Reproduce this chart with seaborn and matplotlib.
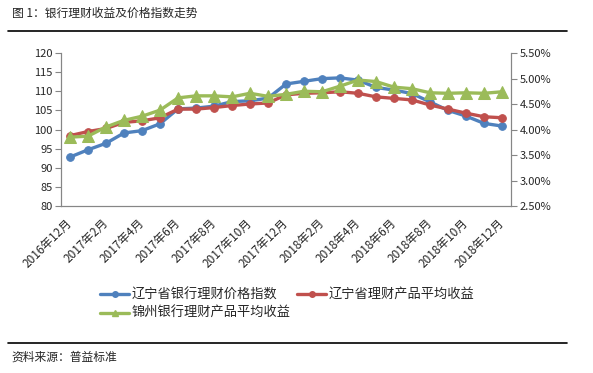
import numpy as np
import pandas as pd
import matplotlib
matplotlib.use("Agg")
import matplotlib.pyplot as plt
from matplotlib.lines import Line2D
import seaborn as sns

# data
months = ["2016年12月", "2017年1月", "2017年2月", "2017年3月", "2017年4月",
          "2017年5月", "2017年6月", "2017年7月", "2017年8月", "2017年9月",
          "2017年10月", "2017年11月", "2017年12月", "2018年1月", "2018年2月",
          "2018年3月", "2018年4月", "2018年5月", "2018年6月", "2018年7月",
          "2018年8月", "2018年9月", "2018年10月", "2018年11月", "2018年12月"]
price_index = [92.8, 94.7, 96.4, 99.1, 99.7, 101.5, 105.4, 105.6, 106.1, 107.3,
               107.5, 108.2, 111.9, 112.6, 113.3, 113.5, 112.9, 111.0, 110.3, 109.4,
               107.2, 105.0, 103.5, 101.6, 100.9]
liaoning_yield = [3.88, 3.96, 4.02, 4.14, 4.17, 4.23, 4.40, 4.40, 4.43, 4.47,
                  4.50, 4.52, 4.68, 4.71, 4.72, 4.74, 4.71, 4.64, 4.61, 4.58,
                  4.48, 4.40, 4.32, 4.25, 4.23]
jinzhou_yield = [3.85, 3.87, 4.05, 4.18, 4.26, 4.38, 4.62, 4.66, 4.66, 4.64,
                 4.71, 4.65, 4.69, 4.75, 4.74, 4.85, 4.97, 4.94, 4.83, 4.80,
                 4.72, 4.71, 4.72, 4.71, 4.74]
series_names = ["辽宁省银行理财价格指数", "辽宁省理财产品平均收益", "锦州银行理财产品平均收益"]
colors = ["#4F81BD", "#C0504D", "#9BBB59"]

df = pd.DataFrame({"idx": np.arange(len(months)), "month": months,
                   "price": price_index, "ln": liaoning_yield, "jz": jinzhou_yield})

sns.set_style("white")
plt.rcParams["font.family"] = ["Noto Sans CJK SC", "DejaVu Sans"]

fig = plt.figure(figsize=(5.93, 3.73), dpi=100)
ax = fig.add_axes([0.1029, 0.4477, 0.7589, 0.4102])
ax2 = ax.twinx()

sns.lineplot(data=df, x="idx", y="price", ax=ax, color=colors[0], linewidth=2.4,
             marker="o", markersize=5.5, markeredgecolor=colors[0])
sns.lineplot(data=df, x="idx", y="ln", ax=ax2, color=colors[1], linewidth=2.4,
             marker="o", markersize=5.5, markeredgecolor=colors[1])
sns.lineplot(data=df, x="idx", y="jz", ax=ax2, color=colors[2], linewidth=2.4,
             marker="^", markersize=8, markeredgecolor=colors[2])

ax.set_xlim(-0.5, len(months) - 0.5)
ax.set_ylim(80, 120)
ax.set_yticks(np.arange(80, 121, 5))
ax2.set_ylim(2.5, 5.5)
ax2.set_yticks(np.arange(2.5, 5.51, 0.5))
ax2.set_yticklabels([f"{v:.2f}%" for v in np.arange(2.5, 5.51, 0.5)])
for a in (ax, ax2):
    a.set_xlabel("")
    a.set_ylabel("")

# category labels every 2 months, tick marks between categories
ax.set_xticks(np.arange(-0.5, len(months), 2))
ax.set_xticklabels([])
ax.set_xticks(df["idx"][::2], minor=True)
ax.set_xticklabels(months[::2], minor=True)
ax.tick_params(axis="x", which="major", length=4, width=0.8, color="#868686", direction="out")
ax.tick_params(axis="x", which="minor", length=0, pad=11, labelsize=8.5)
for lab in ax.get_xticklabels(minor=True):
    lab.set_rotation(45)
    lab.set_ha("right")
    lab.set_va("center")
    lab.set_rotation_mode("anchor")

ax.tick_params(axis="y", length=4, width=0.8, color="#868686", labelsize=8, pad=2, left=True)
ax2.tick_params(axis="y", length=4, width=0.8, color="#868686", labelsize=8, pad=2, right=True)

for a in (ax, ax2):
    a.grid(False)
    a.spines["top"].set_visible(False)
    for s in ("left", "right", "bottom"):
        a.spines[s].set_color("#868686")
        a.spines[s].set_linewidth(0.8)

handles = [Line2D([], [], color=colors[0], lw=2.4, marker="o", markersize=4),
           Line2D([], [], color=colors[2], lw=2.4, marker="^", markersize=5),
           Line2D([], [], color=colors[1], lw=2.4, marker="o", markersize=4)]
labels = [series_names[0], series_names[2], series_names[1]]
fig.legend(handles, labels, ncol=2, loc="upper left", bbox_to_anchor=(0.16, 0.242),
           frameon=False, fontsize=9.5, handlelength=2.2, handletextpad=0.2,
           columnspacing=0.5, labelspacing=0.45, borderaxespad=0)

# title, rules and source note
fig.text(0.02, 0.965, "图 1：银行理财收益及价格指数走势", fontsize=8.5, va="center")
fig.add_artist(Line2D([0.014, 0.956], [0.918, 0.918], color="black", lw=1.2))
fig.add_artist(Line2D([0.014, 0.956], [0.080, 0.080], color="black", lw=1.2))
fig.text(0.02, 0.042, "资料来源：普益标准", fontsize=8.5, va="center")

fig.savefig("out.png", dpi=100)
